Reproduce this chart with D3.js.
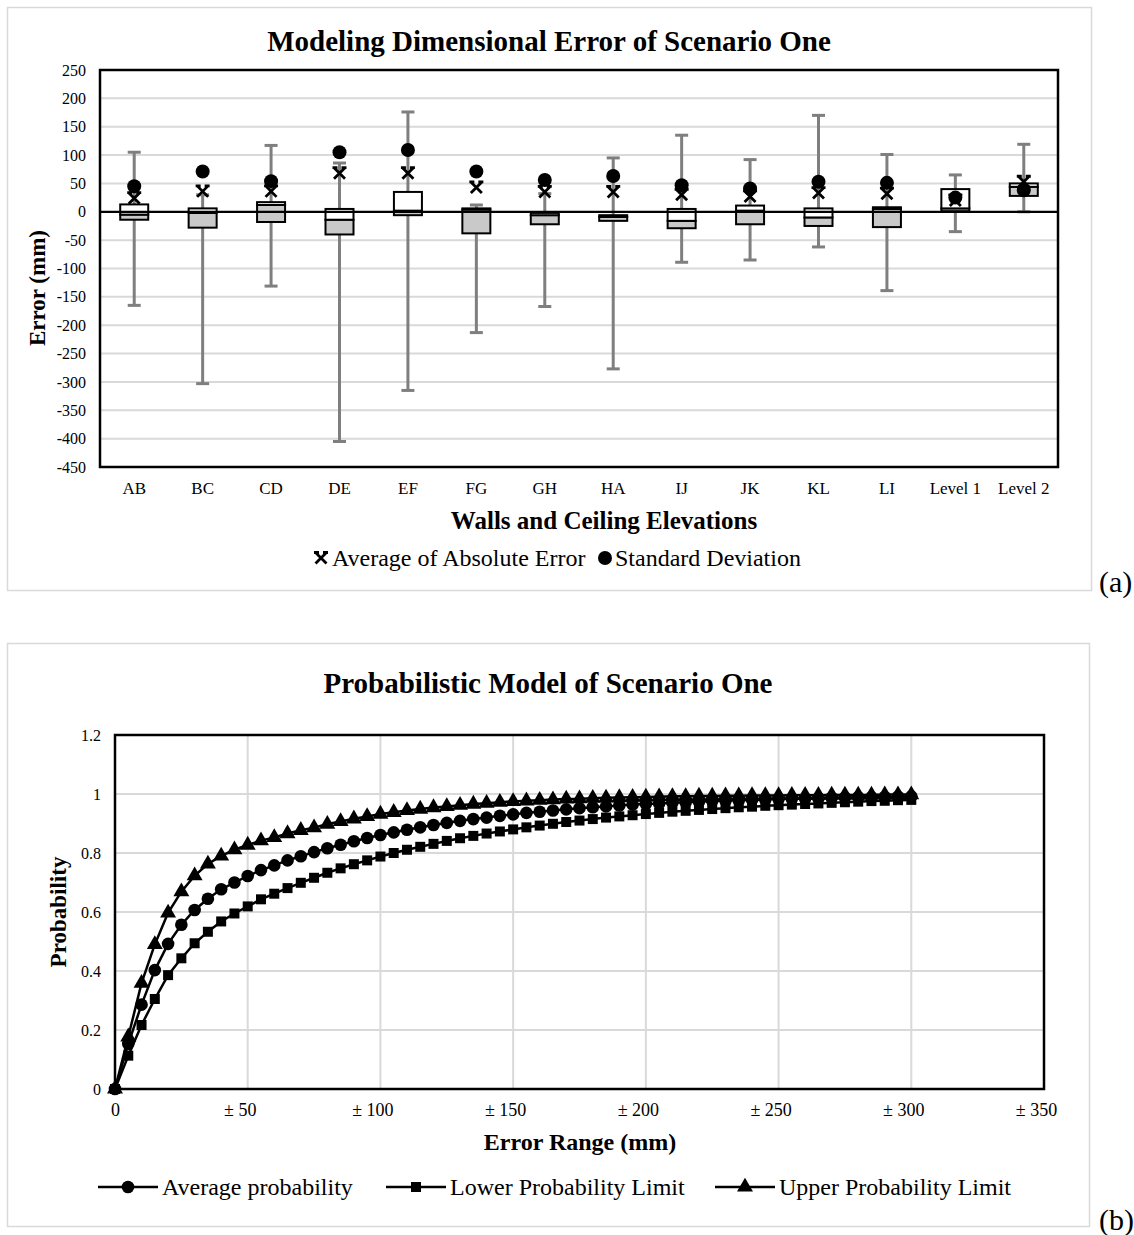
<!DOCTYPE html>
<html>
<head>
<meta charset="utf-8">
<script src="https://cdn.jsdelivr.net/npm/d3@7"></script>
<style>
  html, body { margin: 0; padding: 0; background: #fff; }
  svg { display: block; font-family: "Liberation Serif", "Times New Roman", serif; }
</style>
</head>
<body>
<svg id="fig" width="1134" height="1235"></svg>
<script>
// ---------- (a) box plots of dimensional error ----------
const elevations = ["AB","BC","CD","DE","EF","FG","GH","HA","IJ","JK","KL","LI","Level 1","Level 2"];
const whiskerMax = [105, 30, 117, 86, 176, 12, 32, 95, 135, 92, 170, 101, 65, 119];
const whiskerMin = [-165, -303, -131, -405, -315, -213, -167, -277, -89, -85, -62, -139, -35, 0];
const q3         = [13, 6, 17, 5, 35, 6, -2, -6, 5, 11, 6, 8, 40, 50];
const medianVal  = [-5, -2, 12, -14, 2, 4, -6, -9, -16, 2, -10, 5, 6, 44];
const q1         = [-14, -28, -18, -40, -6, -38, -22, -16, -29, -22, -25, -27, 1, 28];
const avgAbsError = [24, 36, 36, 68, 68, 43, 35, 35, 30, 27, 33, 32, 20, 53];
const stdDev      = [45, 71, 54, 105, 109, 71, 56, 63, 47, 41, 53, 51, 25, 38];
const errorTicks = [-450,-400,-350,-300,-250,-200,-150,-100,-50,0,50,100,150,200,250];

// ---------- (b) cumulative probability curves ----------
const errorRange = d3.range(0, 301, 5);
const avgProb = [0,0.153,0.286,0.403,0.492,0.557,0.607,0.645,0.677,0.700,0.722,0.742,0.758,0.775,0.789,
  0.803,0.816,0.828,0.840,0.851,0.861,0.870,0.879,0.887,0.895,0.902,0.909,0.915,0.920,0.926,0.931,
  0.936,0.940,0.944,0.948,0.952,0.955,0.958,0.961,0.964,0.966,0.968,0.970,0.972,0.974,0.976,
  0.977,0.979,0.980,0.981,0.983,0.984,0.985,0.986,0.987,0.988,0.989,0.989,0.990,0.991,0.992];
const lowerProb = [0,0.113,0.217,0.305,0.386,0.443,0.494,0.533,0.568,0.595,0.619,0.643,0.662,0.681,0.699,
  0.716,0.733,0.748,0.762,0.775,0.788,0.800,0.811,0.821,0.831,0.841,0.850,0.858,0.866,0.873,0.880,
  0.887,0.893,0.899,0.905,0.910,0.915,0.920,0.924,0.928,0.932,0.936,0.940,0.943,0.946,0.949,
  0.952,0.955,0.957,0.960,0.962,0.964,0.966,0.968,0.970,0.972,0.974,0.976,0.977,0.979,0.980];
const upperProb = [0,0.177,0.359,0.490,0.597,0.669,0.723,0.763,0.790,0.811,0.827,0.842,0.853,0.866,0.877,
  0.886,0.898,0.907,0.916,0.924,0.932,0.938,0.944,0.949,0.954,0.958,0.962,0.966,0.969,0.972,0.975,
  0.977,0.979,0.981,0.983,0.984,0.986,0.987,0.988,0.989,0.990,0.991,0.992,0.992,0.993,0.993,
  0.994,0.994,0.995,0.995,0.995,0.996,0.996,0.996,0.997,0.997,0.997,0.997,0.998,0.998,0.998];
const probTicks = [0, 0.2, 0.4, 0.6, 0.8, 1, 1.2];
const rangeTicks = [0, 50, 100, 150, 200, 250, 300, 350];

const svg = d3.select("#fig");
const GRID = "#d9d9d9";
const hyphenFmt = d => String(d).replace("\u2212", "-");

// ================= panel (a) =================
const pa = svg.append("g");
pa.append("rect").attr("x", 7.5).attr("y", 7.5).attr("width", 1084).attr("height", 583)
  .attr("fill", "#fff").attr("stroke", "#d9d9d9").attr("stroke-width", 1.5);

pa.append("text").attr("x", 549).attr("y", 51).attr("text-anchor", "middle")
  .attr("font-size", 29).attr("font-weight", "bold").text("Modeling Dimensional Error of Scenario One");

const xA = d3.scaleBand().domain(elevations).range([100, 1058]);
const yA = d3.scaleLinear().domain([-450, 250]).range([467, 70]);

// horizontal gridlines
pa.append("g").selectAll("line").data(errorTicks.filter(t => t > -450 && t < 250 && t !== 0)).join("line")
  .attr("x1", 100).attr("x2", 1058).attr("y1", d => yA(d)).attr("y2", d => yA(d))
  .attr("stroke", GRID).attr("stroke-width", 2);

// y axis labels
const yAxisA = d3.axisLeft(yA).tickValues(errorTicks).tickSize(0).tickPadding(14).tickFormat(hyphenFmt);
pa.append("g").attr("transform", "translate(100,0)").call(yAxisA)
  .call(g => g.select(".domain").remove())
  .selectAll("text").attr("font-size", 16).attr("font-family", "Liberation Serif").attr("fill", "#000");

// x axis category labels
const xAxisA = d3.axisBottom(xA).tickSize(0).tickPadding(15);
pa.append("g").attr("transform", "translate(0,467)").call(xAxisA)
  .call(g => g.select(".domain").remove())
  .selectAll("text").attr("font-size", 17).attr("font-family", "Liberation Serif").attr("fill", "#000");

const boxW = 28, capW = 13;
const rows = elevations.map((c, i) => ({
  c, max: whiskerMax[i], min: whiskerMin[i], q3: q3[i], med: medianVal[i], q1: q1[i],
  avg: avgAbsError[i], sd: stdDev[i]
}));
const cx = d => xA(d.c) + xA.bandwidth() / 2;

// whiskers
const wg = pa.append("g").attr("stroke", "#7f7f7f").attr("stroke-width", 3);
wg.selectAll(".wu").data(rows).join("line")
  .attr("x1", cx).attr("x2", cx).attr("y1", d => yA(d.max)).attr("y2", d => yA(d.q3));
wg.selectAll(".wl").data(rows).join("line")
  .attr("x1", cx).attr("x2", cx).attr("y1", d => yA(d.q1)).attr("y2", d => yA(d.min));
wg.selectAll(".cu").data(rows).join("line")
  .attr("x1", d => cx(d) - capW / 2).attr("x2", d => cx(d) + capW / 2)
  .attr("y1", d => yA(d.max)).attr("y2", d => yA(d.max));
wg.selectAll(".cl").data(rows).join("line")
  .attr("x1", d => cx(d) - capW / 2).attr("x2", d => cx(d) + capW / 2)
  .attr("y1", d => yA(d.min)).attr("y2", d => yA(d.min));

// boxes: median..Q3 white, Q1..median grey
const bg = pa.append("g").attr("stroke", "#000").attr("stroke-width", 2);
bg.selectAll(".lo").data(rows).join("rect")
  .attr("x", d => cx(d) - boxW / 2).attr("width", boxW)
  .attr("y", d => yA(d.med)).attr("height", d => Math.max(0.5, yA(d.q1) - yA(d.med)))
  .attr("fill", "#c9c9c9");
bg.selectAll(".hi").data(rows).join("rect")
  .attr("x", d => cx(d) - boxW / 2).attr("width", boxW)
  .attr("y", d => yA(d.q3)).attr("height", d => Math.max(0.5, yA(d.med) - yA(d.q3)))
  .attr("fill", "#fff");

// zero line
pa.append("line").attr("x1", 100).attr("x2", 1058).attr("y1", yA(0)).attr("y2", yA(0))
  .attr("stroke", "#000").attr("stroke-width", 2.2);

// markers
function crossPath(x, y, s) {
  return `M${x - s},${y - s}L${x + s},${y + s}M${x + s},${y - s}L${x - s},${y + s}` +
         `M${x - s - 1.5},${y - s}L${x - s + 3.5},${y - s}M${x + s - 3.5},${y - s}L${x + s + 1.5},${y - s}`;
}
pa.append("g").selectAll("path").data(rows).join("path")
  .attr("d", d => crossPath(cx(d), yA(d.avg), 5.5))
  .attr("stroke", "#000").attr("stroke-width", 2.8).attr("fill", "none");
pa.append("g").selectAll("circle").data(rows).join("circle")
  .attr("cx", cx).attr("cy", d => yA(d.sd)).attr("r", 7).attr("fill", "#000");

// plot frame
pa.append("rect").attr("x", 100).attr("y", 70).attr("width", 958).attr("height", 397)
  .attr("fill", "none").attr("stroke", "#000").attr("stroke-width", 2.5);

// axis titles
pa.append("text").attr("transform", "translate(45,288) rotate(-90)").attr("text-anchor", "middle")
  .attr("font-size", 23).attr("font-weight", "bold").text("Error (mm)");
pa.append("text").attr("x", 604).attr("y", 529).attr("text-anchor", "middle")
  .attr("font-size", 25).attr("font-weight", "bold").text("Walls and Ceiling Elevations");

// legend
const lgA = pa.append("g");
lgA.append("path").attr("d", crossPath(321, 558, 5.5)).attr("stroke", "#000").attr("stroke-width", 2.8).attr("fill", "none");
lgA.append("text").attr("x", 332).attr("y", 566).attr("font-size", 24).text("Average of Absolute Error");
lgA.append("circle").attr("cx", 605).attr("cy", 558).attr("r", 7).attr("fill", "#000");
lgA.append("text").attr("x", 615).attr("y", 566).attr("font-size", 24).text("Standard Deviation");

svg.append("text").attr("x", 1099).attr("y", 592).attr("font-size", 30).text("(a)");

// ================= panel (b) =================
const pb = svg.append("g");
pb.append("rect").attr("x", 7.5).attr("y", 643.5).attr("width", 1082).attr("height", 583)
  .attr("fill", "#fff").attr("stroke", "#d9d9d9").attr("stroke-width", 1.5);

pb.append("text").attr("x", 548).attr("y", 693).attr("text-anchor", "middle")
  .attr("font-size", 29).attr("font-weight", "bold").text("Probabilistic Model of Scenario One");

const xB = d3.scaleLinear().domain([0, 350]).range([115, 1044]);
const yB = d3.scaleLinear().domain([0, 1.2]).range([1089, 735]);

pb.append("g").selectAll("line").data(probTicks.filter(t => t > 0 && t < 1.2)).join("line")
  .attr("x1", 115).attr("x2", 1044).attr("y1", d => yB(d)).attr("y2", d => yB(d))
  .attr("stroke", GRID).attr("stroke-width", 2);
pb.append("g").selectAll("line").data(rangeTicks.filter(t => t > 0 && t < 350)).join("line")
  .attr("y1", 735).attr("y2", 1089).attr("x1", d => xB(d)).attr("x2", d => xB(d))
  .attr("stroke", GRID).attr("stroke-width", 2);

const yAxisB = d3.axisLeft(yB).tickValues(probTicks).tickSize(0).tickPadding(14).tickFormat(d => String(d));
pb.append("g").attr("transform", "translate(115,0)").call(yAxisB)
  .call(g => g.select(".domain").remove())
  .selectAll("text").attr("font-size", 16).attr("font-family", "Liberation Serif").attr("fill", "#000");

const xAxisB = d3.axisBottom(xB).tickValues(rangeTicks).tickSize(0).tickPadding(14)
  .tickFormat(d => d === 0 ? "0" : "\u00B1 " + d);
pb.append("g").attr("transform", "translate(0,1089)").call(xAxisB)
  .call(g => g.select(".domain").remove())
  .selectAll("text").attr("font-size", 18).attr("font-family", "Liberation Serif").attr("fill", "#000")
  .attr("dx", d => d === 0 ? 0 : -8);

const series = [
  { name: "Average probability", values: avgProb, shape: "circle" },
  { name: "Lower Probability Limit", values: lowerProb, shape: "square" },
  { name: "Upper Probability Limit", values: upperProb, shape: "triangle" }
];
const symFor = {
  circle: d3.symbol().type(d3.symbolCircle).size(125),
  square: d3.symbol().type(d3.symbolSquare).size(100),
  triangle: d3.symbol().type(d3.symbolTriangle).size(110)
};
const line = d3.line().x(d => xB(d[0])).y(d => yB(d[1]));

series.forEach(s => {
  const pts = errorRange.map((e, i) => [e, s.values[i]]);
  const g = pb.append("g");
  g.append("path").attr("d", line(pts)).attr("fill", "none").attr("stroke", "#000").attr("stroke-width", 2.5);
  g.selectAll("path.m").data(pts).join("path").attr("class", "m")
    .attr("transform", d => `translate(${xB(d[0])},${yB(d[1])})`)
    .attr("d", symFor[s.shape]()).attr("fill", "#000");
});

pb.append("rect").attr("x", 115).attr("y", 735).attr("width", 929).attr("height", 354)
  .attr("fill", "none").attr("stroke", "#000").attr("stroke-width", 2.5);

pb.append("text").attr("transform", "translate(66,912) rotate(-90)").attr("text-anchor", "middle")
  .attr("font-size", 23).attr("font-weight", "bold").text("Probability");
pb.append("text").attr("x", 580).attr("y", 1150).attr("text-anchor", "middle")
  .attr("font-size", 24).attr("font-weight", "bold").text("Error Range (mm)");

// legend
const legendPos = [98, 386, 715];
series.forEach((s, i) => {
  const x0 = legendPos[i];
  const g = pb.append("g");
  g.append("line").attr("x1", x0).attr("x2", x0 + 60).attr("y1", 1187).attr("y2", 1187)
    .attr("stroke", "#000").attr("stroke-width", 2.5);
  g.append("path").attr("transform", `translate(${x0 + 30},1187)`).attr("d", symFor[s.shape]()).attr("fill", "#000");
  g.append("text").attr("x", x0 + 64).attr("y", 1195).attr("font-size", 24).text(s.name);
});

svg.append("text").attr("x", 1099).attr("y", 1230).attr("font-size", 30).text("(b)");
</script>
</body>
</html>
